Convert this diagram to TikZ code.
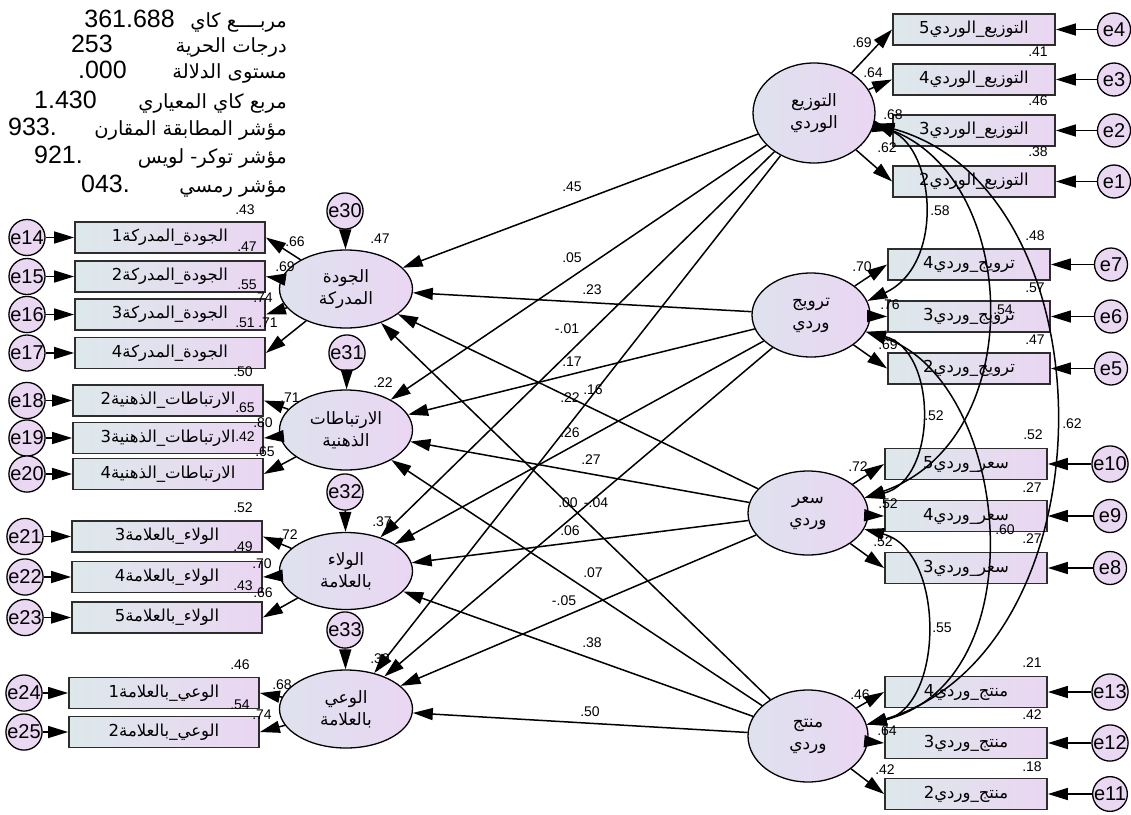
\documentclass[tikz,border=0pt]{standalone}
\usepackage{fontspec}
\setmainfont{Liberation Sans}
\newfontfamily\ar[Script=Arabic]{DejaVu Sans}
\TeXXeTstate=1
\usetikzlibrary{shapes.geometric,arrows.meta}
\definecolor{boxL}{RGB}{221,232,235}
\definecolor{boxR}{RGB}{234,214,242}
\definecolor{latL}{RGB}{222,226,238}
\definecolor{latR}{RGB}{234,214,243}
\definecolor{errF}{RGB}{234,216,242}
\definecolor{edge}{RGB}{45,45,45}

\begin{document}
\begin{tikzpicture}[x=1pt,y=-1pt,
  lat/.style={ellipse, draw=black, line width=1.3pt, left color=latL, right color=latR,
              inner sep=0pt, align=center, font=\ar\fontsize{17}{22}\selectfont},
  ind/.style={rectangle, draw=edge, line width=1.8pt, left color=boxL, right color=boxR,
              minimum height=31pt, inner sep=0pt, font=\ar\fontsize{16.5}{16.5}\selectfont},
  lind/.style={ind, minimum width=190pt},
  rind/.style={ind, minimum width=162pt},
  err/.style={circle, draw=black, line width=1.3pt, fill=errF, minimum size=33pt,
              inner sep=0pt, font=\fontsize{20}{20}\selectfont},
  reg/.style={line width=1.5pt, -{Triangle[length=20pt,width=12pt]}},
  cov/.style={line width=1.5pt, {Triangle[length=20pt,width=12pt]}-{Triangle[length=20pt,width=12pt]}},
  est/.style={inner sep=0pt, font=\fontsize{14}{14}\selectfont},
  fitnum/.style={inner sep=0pt, anchor=base east, font=\fontsize{25}{25}\selectfont},
  fitlab/.style={inner sep=0pt, anchor=base east, font=\ar\fontsize{19.5}{19.5}\selectfont},
]
\fill[white] (0,0) rectangle (1131,814);
\useasboundingbox (0,0) rectangle (1131,814);

% ---------- fit statistics ----------
\node[fitlab] (f1) at (287,27)  {\beginR مربــــع كاي\endR};
\node[fitnum] (v1) at (175,27)  {361.688};
\node[fitlab] (f2) at (287,52)  {\beginR درجات الحرية\endR};
\node[fitnum] (v2) at (113,52)  {253};
\node[fitlab] (f3) at (287,78)  {\beginR مستوى الدلالة\endR};
\node[fitnum] (v3) at (127,78)  {.000};
\node[fitlab] (f4) at (287,108) {\beginR مربع كاي المعياري\endR};
\node[fitnum] (v4) at (97,108)  {1.430};
\node[fitlab] (f5) at (287,135) {\beginR مؤشر المطابقة المقارن\endR};
\node[fitnum] (v5) at (57,135)  {933.};
\node[fitlab] (f6) at (287,163) {\beginR مؤشر توكر- لويس\endR};
\node[fitnum] (v6) at (83,163)  {921.};
\node[fitlab] (f7) at (287,192) {\beginR مؤشر رمسي\endR};
\node[fitnum] (v7) at (130,192) {043.};

% ---------- latent variables ----------
\node[lat, minimum width=133pt, minimum height=78pt] (Q) at (346,289) {الجودة\\المدركة};
\node[lat, minimum width=133pt, minimum height=80pt] (R) at (346,430) {الارتباطات\\الذهنية};
\node[lat, minimum width=133pt, minimum height=77pt] (L) at (346,571) {الولاء\\بالعلامة};
\node[lat, minimum width=133pt, minimum height=78pt] (A) at (346,709) {الوعي\\بالعلامة};
\node[lat, minimum width=122pt, minimum height=100pt] (T) at (814,113) {التوزيع\\الوردي};
\node[lat, minimum width=118pt, minimum height=84pt] (P) at (811,315) {ترويج\\وردي};
\node[lat, minimum width=120pt, minimum height=84pt] (S) at (808,513) {سعر\\وردي};
\node[lat, minimum width=120pt, minimum height=92pt] (M) at (808,736) {منتج\\وردي};

% ---------- disturbances of the endogenous latents ----------
\node[err] (e30) at (345,211) {e30};
\node[err] (e31) at (347,353) {e31};
\node[err] (e32) at (345,492) {e32};
\node[err] (e33) at (345,630) {e33};

% ---------- left indicators ----------
\node[lind] (q1) at (170,237.5) {الجودة\_المدركة1};
\node[lind] (q2) at (170,276.5) {الجودة\_المدركة2};
\node[lind] (q3) at (170,314.5) {الجودة\_المدركة3};
\node[lind] (q4) at (170,353)   {الجودة\_المدركة4};
\node[lind] (r2) at (168,400.5) {الارتباطات\_الذهنية2};
\node[lind] (r3) at (168,438)   {الارتباطات\_الذهنية3};
\node[lind] (r4) at (168,474)   {الارتباطات\_الذهنية4};
\node[lind] (l3) at (167,536.5) {الولاء\_بالعلامة3};
\node[lind] (l4) at (167,577)   {الولاء\_بالعلامة4};
\node[lind] (l5) at (167,617.5) {الولاء\_بالعلامة5};
\node[lind] (a1) at (164,693)   {الوعي\_بالعلامة1};
\node[lind] (a2) at (164,732)   {الوعي\_بالعلامة2};

\node[err] (e14) at (27,237.5) {e14};
\node[err] (e15) at (27,276.5) {e15};
\node[err] (e16) at (27,314.5) {e16};
\node[err] (e17) at (27,353)   {e17};
\node[err] (e18) at (27,400.5) {e18};
\node[err] (e19) at (27,438)   {e19};
\node[err] (e20) at (27,474)   {e20};
\node[err] (e21) at (25,536.5) {e21};
\node[err] (e22) at (25,577)   {e22};
\node[err] (e23) at (25,617.5) {e23};
\node[err] (e24) at (24,693)   {e24};
\node[err] (e25) at (24,732)   {e25};

% ---------- right indicators ----------
\node[rind] (t5) at (974,29.5)  {التوزيع\_الوردي5};
\node[rind] (t4) at (974,79.5)  {التوزيع\_الوردي4};
\node[rind] (t3) at (974,130.5) {التوزيع\_الوردي3};
\node[rind] (t2) at (974,181.5) {التوزيع\_الوردي2};
\node[rind] (p4) at (969,264.5) {ترويج\_وردي4};
\node[rind] (p3) at (969,316.5) {ترويج\_وردي3};
\node[rind] (p2) at (969,368.5) {ترويج\_وردي2};
\node[rind] (s5) at (966,464)   {سعر\_وردي5};
\node[rind] (s4) at (966,516)   {سعر\_وردي4};
\node[rind] (s3) at (966,568)   {سعر\_وردي3};
\node[rind] (m4) at (966,692)   {منتج\_وردي4};
\node[rind] (m3) at (966,743)   {منتج\_وردي3};
\node[rind] (m2) at (966,794)   {منتج\_وردي2};

\node[err] (e4)  at (1114,29.5)  {e4};
\node[err] (e3)  at (1114,79.5)  {e3};
\node[err] (e2)  at (1114,130.5) {e2};
\node[err] (e1)  at (1114,181.5) {e1};
\node[err] (e7)  at (1111,264.5) {e7};
\node[err] (e6)  at (1111,316.5) {e6};
\node[err] (e5)  at (1111,368.5) {e5};
\node[err] (e10) at (1110,464)   {e10};
\node[err] (e9)  at (1110,516)   {e9};
\node[err] (e8)  at (1110,568)   {e8};
\node[err] (e13) at (1110,692)   {e13};
\node[err] (e12) at (1110,743)   {e12};
\node[err] (e11) at (1110,794)   {e11};

% ---------- measurement errors ----------
\foreach \e/\b in {e14/q1,e15/q2,e16/q3,e17/q4,e18/r2,e19/r3,e20/r4,e21/l3,e22/l4,e23/l5,e24/a1,e25/a2,
                   e4/t5,e3/t4,e2/t3,e1/t2,e7/p4,e6/p3,e5/p2,e10/s5,e9/s4,e8/s3,e13/m4,e12/m3,e11/m2}
  \draw[reg] (\e) -- (\b);
\foreach \e/\l in {e30/Q,e31/R,e32/L,e33/A}
  \draw[reg] (\e) -- (\l);

% ---------- loadings ----------
\foreach \l/\b in {Q/q1,Q/q2,Q/q3,Q/q4,R/r2,R/r3,R/r4,L/l3,L/l4,L/l5,A/a1,A/a2}
  \draw[reg] (\l) -- (\b.east);
\foreach \l/\b in {T/t5,T/t4,T/t3,T/t2,P/p4,P/p3,P/p2,S/s5,S/s4,S/s3,M/m4,M/m3,M/m2}
  \draw[reg] (\l) -- (\b.west);

% ---------- structural paths ----------
\foreach \s in {T,P,S,M}
  \foreach \d in {Q,R,L,A}
    \draw[reg] (\s) -- (\d);

% ---------- covariances ----------
\draw[cov] (T.-10) .. controls (935,150) and (945,265) .. (P.14);
\draw[cov] (T.-10) .. controls (1020,180) and (1030,440) .. (S.15);
\draw[cov] (T.-10) .. controls (1115,190) and (1115,650) .. (M.11);
\draw[cov] (P.-17) .. controls (938,350) and (938,480) .. (S.15);
\draw[cov] (P.-17) .. controls (1010,380) and (1040,680) .. (M.11);
\draw[cov] (S.-16) .. controls (945,550) and (945,705) .. (M.11);

% ---------- estimates ----------
\foreach \x/\y/\t [count=\i] in {
  572/187/.45, 572/258/.05, 592/290/.23, 567/329/-.01, 572/362/.17, 593/390/.16,
  570/398/.22, 570/433/.26, 591/460/.27, 568/503/.00, 596/503/-.04, 570/531/.06,
  593/573/.07, 564/601/-.05, 592/643/.38, 590/712/.50,
  295/242/.66, 285/267/.69, 263/298/.74, 268/323/.71,
  245/210/.43, 247/247/.47, 247/285/.55, 245/323/.51,
  290/398/.71, 263/423/.80, 265/452/.65, 243/372/.50, 245/408/.65, 245/437/.42,
  288/535/.72, 262/564/.70, 263/593/.66, 243/508/.52, 243/547/.49, 243/586/.43,
  282/685/.68, 262/715/.74, 240/665/.46, 240/705/.54,
  380/239/.47, 383/383/.22, 382/522/.37, 380/659/.39,
  862/43/.69, 873/73/.64, 893/115/.68, 887/148/.62, 1038/52/.41, 1038/101/.46, 1038/152/.38,
  862/267/.70, 890/305/.76, 888/345/.69, 1035/236/.48, 1035/288/.57, 1035/340/.47,
  858/467/.72, 888/504/.52, 883/542/.52, 1033/435/.52, 1032/488/.27, 1032/539/.27,
  860/695/.46, 887/731/.64, 885/770/.42, 1032/663/.21, 1032/715/.42, 1032/767/.18,
  940/211/.58, 934/416/.52, 1003/310/.54, 1005/530/.60, 1072/424/.62, 942/628/.55}
  \node[est] (w\i) at (\x,\y) {\t};
\end{tikzpicture}
\end{document}
